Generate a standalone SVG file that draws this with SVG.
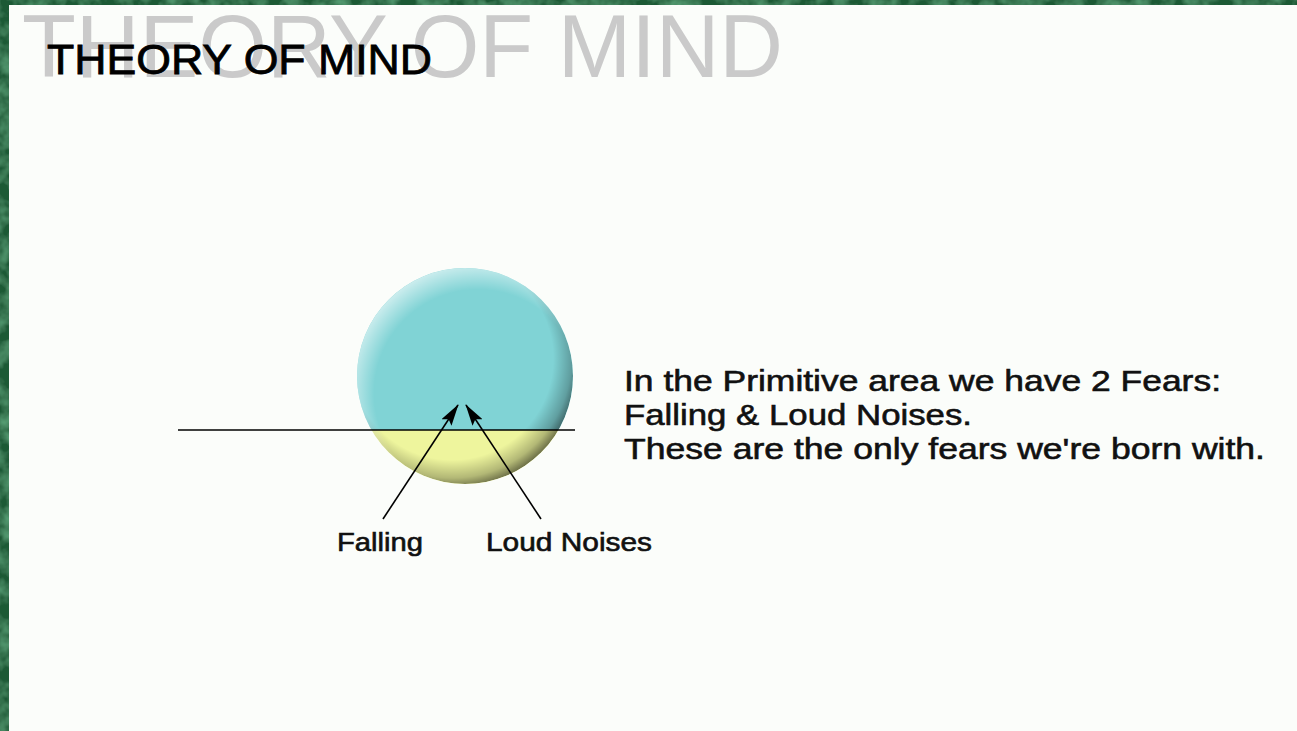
<svg xmlns="http://www.w3.org/2000/svg" width="1297" height="731" viewBox="0 0 1297 731">
  <style>
    .t { font-family: "Liberation Sans", Arial, sans-serif; fill: #111; }
    .thick { stroke: #111; stroke-width: 0.6; }
    .conn { stroke: #000; stroke-width: 1.6; fill: none; }
  </style>
  <defs>
    <filter id="tex" x="0" y="0" width="100%" height="100%">
      <feTurbulence type="fractalNoise" baseFrequency="0.06" numOctaves="3" seed="4" result="n"/>
      <feColorMatrix in="n" type="matrix" values="0 0 0 0 0.12  0 0 0 0 0.42  0 0 0 0 0.22  0 0 0 1.4 -0.5" result="c"/>
      <feComposite in="c" in2="SourceGraphic" operator="over"/>
    </filter>
    <clipPath id="circ"><circle cx="465" cy="376" r="108"/></clipPath>
    <radialGradient id="shade" cx="0.44" cy="0.42" r="0.6">
      <stop offset="0.78" stop-color="#000" stop-opacity="0"/>
      <stop offset="0.92" stop-color="#000" stop-opacity="0.25"/>
      <stop offset="1" stop-color="#000" stop-opacity="0.55"/>
    </radialGradient>
    <radialGradient id="hilite" cx="0.56" cy="0.58" r="0.6">
      <stop offset="0.8" stop-color="#fff" stop-opacity="0"/>
      <stop offset="1" stop-color="#fff" stop-opacity="0.6"/>
    </radialGradient>
    <marker id="ah" viewBox="0 0 22 12" refX="21" refY="6" markerWidth="22" markerHeight="12" markerUnits="userSpaceOnUse" orient="auto">
      <path d="M0,0 L22,6 L0,12 L4,6 Z" fill="#000"/>
    </marker>
  </defs>

  <rect width="1297" height="731" fill="#1d5a36" filter="url(#tex)"/>
  <rect x="9" y="5" width="1288" height="726" fill="#fbfdfa"/>

  <g id="title">
    <text class="t" x="22" y="77" font-size="89" textLength="761" lengthAdjust="spacingAndGlyphs" style="fill:#cacaca">THEORY OF MIND</text>
    <text class="t" x="47" y="74" font-size="42" textLength="385" lengthAdjust="spacingAndGlyphs" style="fill:#000;stroke:#000;stroke-width:0.8">THEORY OF MIND</text>
  </g>

  <g id="circle-node">
    <g clip-path="url(#circ)">
      <rect x="350" y="260" width="240" height="170" fill="#80d3d5"/>
      <rect x="350" y="430" width="240" height="70" fill="#eef59d"/>
      <circle cx="465" cy="376" r="108" fill="url(#shade)"/>
      <circle cx="465" cy="376" r="108" fill="url(#hilite)"/>
    </g>
  </g>

  <g id="connectors">
    <line class="conn" x1="178" y1="430" x2="575" y2="430"/>
    <line class="conn" x1="383" y1="519" x2="458" y2="405" marker-end="url(#ah)"/>
    <line class="conn" x1="541" y1="519" x2="466" y2="405" marker-end="url(#ah)"/>
  </g>

  <g id="label-falling">
    <text class="t thick" x="337" y="551" font-size="25" textLength="86" lengthAdjust="spacingAndGlyphs">Falling</text>
  </g>
  <g id="label-loud">
    <text class="t thick" x="486" y="551" font-size="25" textLength="166" lengthAdjust="spacingAndGlyphs">Loud Noises</text>
  </g>

  <g id="description">
    <text class="t thick" x="624" y="391" font-size="30" textLength="597" lengthAdjust="spacingAndGlyphs">In the Primitive area we have 2 Fears:</text>
    <text class="t thick" x="624" y="425" font-size="30" textLength="348" lengthAdjust="spacingAndGlyphs">Falling &amp; Loud Noises.</text>
    <text class="t thick" x="624" y="459" font-size="30" textLength="641" lengthAdjust="spacingAndGlyphs">These are the only fears we're born with.</text>
  </g>
</svg>
